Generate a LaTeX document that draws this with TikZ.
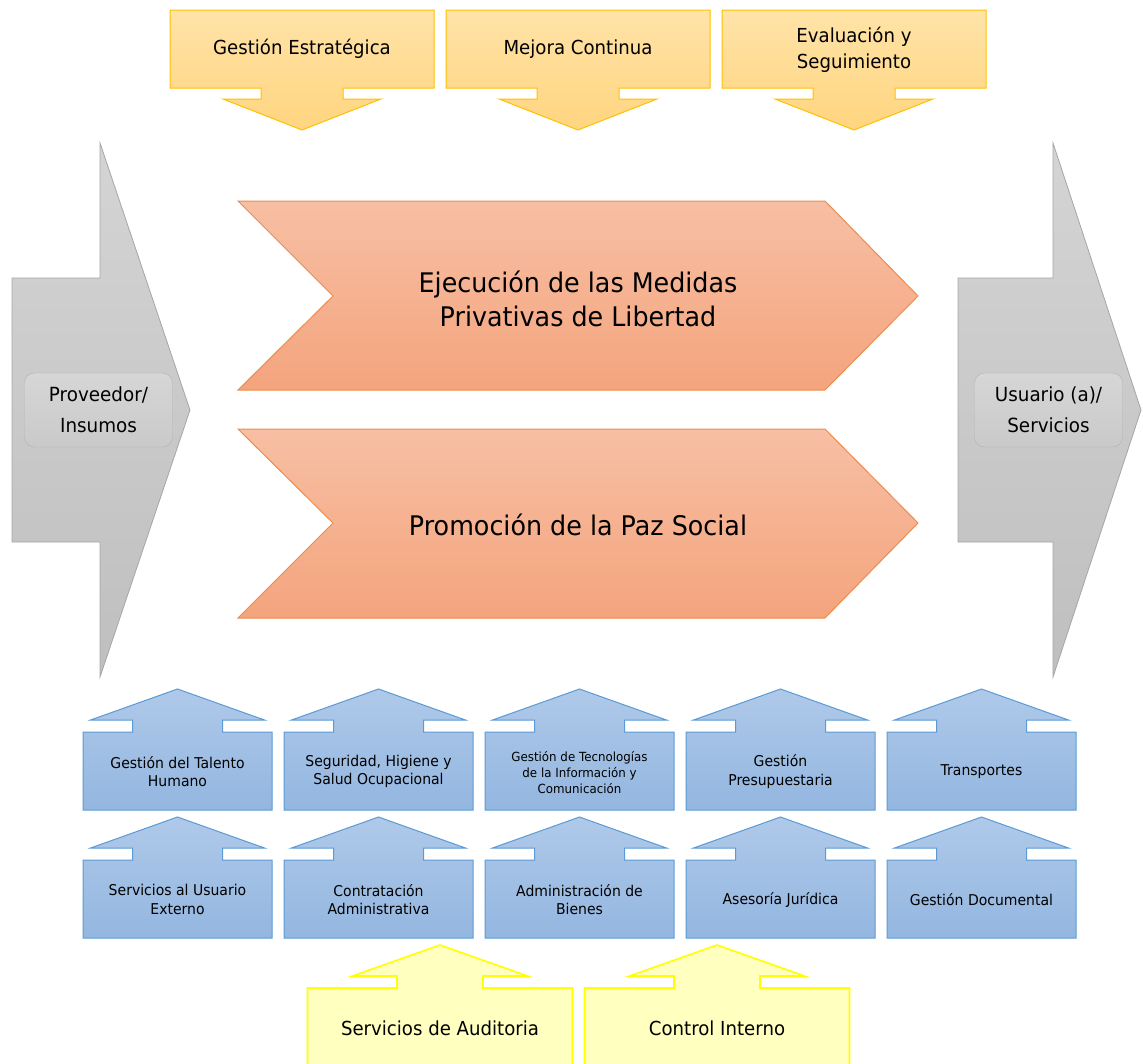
\documentclass[tikz,border=0pt]{standalone}
\usepackage{fontspec}
\setmainfont{DejaVu Sans}[FakeStretch=0.94]
\usepackage{tikz}
\usetikzlibrary{calc,positioning}
\definecolor{goldline}{HTML}{FFC000}
\definecolor{goldtop}{HTML}{FFE3A8}
\definecolor{goldbot}{HTML}{FFD57F}
\definecolor{chevline}{HTML}{EE8C4D}
\definecolor{chevtop}{HTML}{F7BFA4}
\definecolor{chevbot}{HTML}{F4A47D}
\definecolor{greyline}{HTML}{A6A6A6}
\definecolor{greytop}{HTML}{D4D4D4}
\definecolor{greybot}{HTML}{BFBFBF}
\definecolor{blueline}{HTML}{5B9BD5}
\definecolor{bluetop}{HTML}{AFC9E9}
\definecolor{bluebot}{HTML}{93B6E0}
\definecolor{lemonline}{HTML}{FFFF00}
\definecolor{lemonfill}{HTML}{FFFFC0}

\begin{document}
\begin{tikzpicture}[x=1pt,y=-1pt]

\tikzset{goldarrow/.style={draw=goldline,top color=goldtop,bottom color=goldbot,line width=1pt},
chevron/.style={draw=chevline,top color=chevtop,bottom color=chevbot,line width=1pt},
greyarrow/.style={draw=greyline,top color=greytop,bottom color=greybot,line width=0.8pt},
greybox/.style={draw=black!30,rounded corners=10pt,top color=black!16,bottom color=black!21,minimum width=148pt,minimum height=74pt,align=center,font=\fontsize{19.5}{31}\selectfont},
bluearrow/.style={draw=blueline,top color=bluetop,bottom color=bluebot,line width=1pt},
lemonarrow/.style={draw=lemonline,fill=lemonfill,line width=1.6pt},
goldtext/.style={align=center,font=\fontsize{19.3}{26}\selectfont},
chevtext/.style={align=center,font=\fontsize{27}{34}\selectfont},
bluetext/.style={align=center,font=\fontsize{14.9}{18.5}\selectfont},
smalltext/.style={align=center,font=\fontsize{12.6}{16}\selectfont}}

\useasboundingbox (0,0) rectangle (1143,1063);

% Top arrows
\foreach \cx in {302,578,854}
  \draw[goldarrow] (\cx-132,10) -- (\cx+132,10) -- (\cx+132,88) -- (\cx+41,88) -- (\cx+41,99) -- (\cx+79,99) -- (\cx,130) -- (\cx-79,99) -- (\cx-41,99) -- (\cx-41,88) -- (\cx-132,88) -- cycle;
\node[goldtext] (estrategica) at (302,49) {Gestión Estratégica};
\node[goldtext] (mejora) at (578,49) {Mejora Continua};
\node[goldtext] (evaluacion) at (854,50) {Evaluación y\\Seguimiento};

% Input and output
\draw[greyarrow] (12,278) -- (100,278) -- (100,143) -- (190,410) -- (100,677) -- (100,542) -- (12,542) -- cycle;
\draw[greyarrow] (958,278) -- (1053,278) -- (1053,143) -- (1141,410) -- (1053,677) -- (1053,542) -- (958,542) -- cycle;
\node[greybox] (proveedor) at (98.5,410) {Proveedor/\\Insumos};
\node[greybox] (usuario) at (1048.5,410) {Usuario (a)/\\Servicios};

% Core processes
\draw[chevron] (238,201) -- (825,201) -- (918,296) -- (825,390) -- (238,390) -- (333,296) -- cycle;
\draw[chevron] (238,429) -- (825,429) -- (918,523) -- (825,618) -- (238,618) -- (333,523) -- cycle;
\node[chevtext] (ejecucion) at (578,299) {Ejecución de las Medidas\\Privativas de Libertad};
\node[chevtext] (paz) at (578,525) {Promoción de la Paz Social};

% Support arrows
\foreach \i in {0,...,4} \foreach \top in {732,860} {
  \pgfmathsetmacro\cx{177.5+201*\i}
  \draw[bluearrow] (\cx-94.5,\top+78) -- (\cx-94.5,\top) -- (\cx-45,\top) -- (\cx-45,\top-12) -- (\cx-87,\top-12) -- (\cx,\top-43) -- (\cx+87,\top-12) -- (\cx+45,\top-12) -- (\cx+45,\top) -- (\cx+94.5,\top) -- (\cx+94.5,\top+78) -- cycle;
}
\node[bluetext] (talento) at (177.5,771.5) {Gestión del Talento\\Humano};
\node[bluetext] (seguridad) at (378.5,771.5) {Seguridad, Higiene y\\Salud Ocupacional};
\node[smalltext] (tecnologias) at (579.5,772.5) {Gestión de Tecnologías\\de la Información y\\Comunicación};
\node[bluetext] (presupuesto) at (780.5,771.5) {Gestión\\Presupuestaria};
\node[bluetext] (transportes) at (981.5,772) {Transportes};
\node[bluetext] (usuarioext) at (177.5,899.5) {Servicios al Usuario\\Externo};
\node[bluetext] (contratacion) at (378.5,899.5) {Contratación\\Administrativa};
\node[bluetext] (bienes) at (579.5,899.5) {Administración de\\Bienes};
\node[bluetext] (juridica) at (780.5,900) {Asesoría Jurídica};
\node[bluetext] (documental) at (981.5,900) {Gestión Documental};

% Control arrows
\foreach \cx in {440,717}
  \draw[lemonarrow] (\cx-132.5,1075) -- (\cx-132.5,988) -- (\cx-43,988) -- (\cx-43,976) -- (\cx-87.5,976) -- (\cx,945) -- (\cx+87.5,976) -- (\cx+43,976) -- (\cx+43,988) -- (\cx+132.5,988) -- (\cx+132.5,1075) -- cycle;
\node[goldtext] (auditoria) at (440,1028) {Servicios de Auditoria};
\node[goldtext] (control) at (717,1028) {Control Interno};

\end{tikzpicture}
\end{document}
